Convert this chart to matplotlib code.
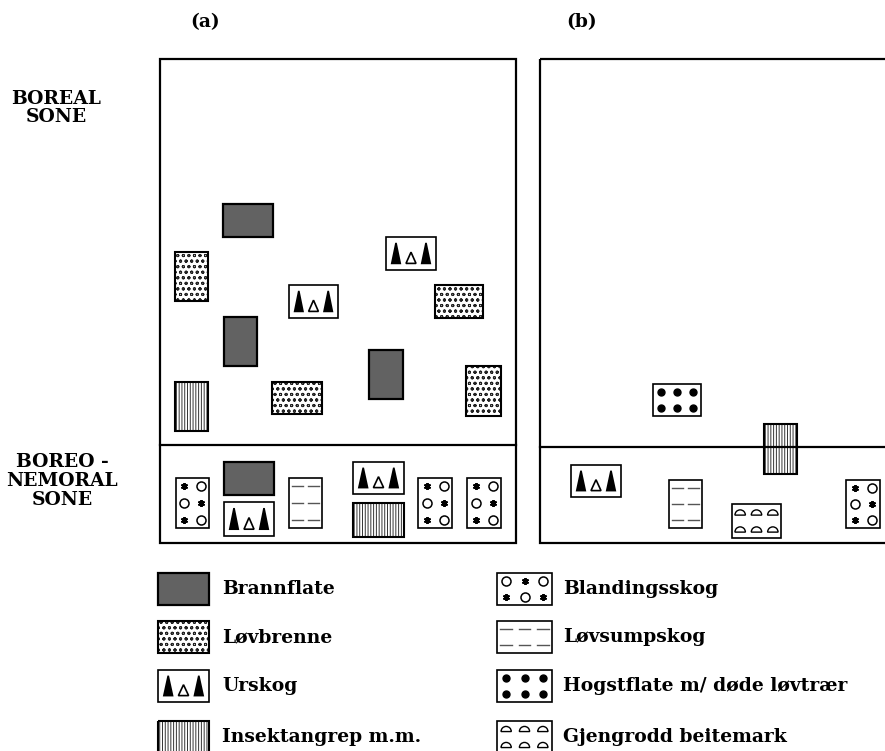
import matplotlib
matplotlib.use("Agg")
import matplotlib.pyplot as plt
from matplotlib.patches import Rectangle, Polygon, Wedge

# ---------------- data ----------------
# patch kinds placed in the schematic: (kind, left, top, right, bottom) in reference pixel units
kinds_a = ["brann", "lovbrenne", "urskog", "brann", "insekt", "lovbrenne",
           "urskog", "lovbrenne", "brann", "lovbrenne",
           "bland", "brann", "urskog", "lovsump", "urskog", "insekt", "bland", "bland"]
left_a = [223, 175, 289, 224, 175, 272, 386, 435, 369, 466, 176, 224, 224, 289, 353, 353, 418, 467]
top_a = [204, 252, 285, 317, 382, 382, 237, 285, 350, 366, 478, 462, 502, 478, 462, 503, 478, 478]
right_a = [273, 208, 338, 257, 208, 322, 436, 483, 403, 501, 209, 274, 274, 322, 404, 404, 452, 501]
bottom_a = [237, 301, 318, 366, 431, 414, 270, 318, 399, 416, 528, 495, 536, 528, 494, 537, 528, 528]

kinds_b = ["hogst", "insekt", "urskog", "lovsump", "gjeng", "bland"]
left_b = [653, 764, 571, 669, 732, 846]
top_b = [384, 424, 465, 480, 504, 480]
right_b = [701, 797, 621, 702, 781, 880]
bottom_b = [416, 474, 497, 528, 538, 528]

legend_kinds = ["brann", "lovbrenne", "urskog", "insekt",
                "bland", "lovsump", "hogst", "gjeng"]
legend_labels = ["Brannflate", "Løvbrenne", "Urskog", "Insektangrep m.m.",
                 "Blandingsskog", "Løvsumpskog", "Hogstflate m/ døde løvtrær",
                 "Gjengrodd beitemark"]

panel_titles = ["(a)", "(b)"]
zone_labels = ["BOREAL\nSONE", "BOREO -\nNEMORAL\nSONE"]

# ---------------- drawing ----------------
plt.rcParams['hatch.linewidth'] = 0.7
FONT = "DejaVu Serif"

fig = plt.figure(figsize=(8.85, 7.51), dpi=100)
ax = fig.add_axes([0, 0, 1, 1])
ax.set_xlim(0, 885)
ax.set_ylim(751, 0)
ax.axis("off")


def draw_patch(kind, x0, y0, x1, y1):
    w, h = x1 - x0, y1 - y0
    portrait = h > w
    if kind == "brann":
        ax.add_patch(Rectangle((x0, y0), w, h, facecolor="#626262", edgecolor="black", lw=1.6, zorder=3))
        return
    if kind == "lovbrenne":
        ax.add_patch(Rectangle((x0, y0), w, h, facecolor="white", edgecolor="#222222", hatch="ooo",
                               lw=0, zorder=3))
        ax.add_patch(Rectangle((x0, y0), w, h, facecolor="none", edgecolor="black", lw=1.5, zorder=3.2))
        return
    if kind == "insekt":
        ax.add_patch(Rectangle((x0, y0), w, h, facecolor="white", edgecolor="#333333", hatch="||||||",
                               lw=0, zorder=3))
        ax.add_patch(Rectangle((x0, y0), w, h, facecolor="none", edgecolor="black", lw=1.5, zorder=3.2))
        return
    ax.add_patch(Rectangle((x0, y0), w, h, facecolor="white", edgecolor="black", lw=1.2, zorder=3))
    if kind == "urskog":
        base = y1 - 0.2 * h
        for cx, th, bw, filled in [(0.2, 0.62, 0.17, True), (0.5, 0.34, 0.2, False), (0.8, 0.62, 0.17, True)]:
            px = x0 + cx * w
            tri = [(px - bw * w / 2, base), (px + bw * w / 2, base), (px, base - th * h)]
            ax.add_patch(Polygon(tri, closed=True, facecolor="black" if filled else "white",
                                 edgecolor="black", lw=1.2, zorder=3.3))
    elif kind in ("bland", "lovsump", "hogst", "gjeng"):
        if portrait:
            cols, rows = 2, 3
        else:
            cols, rows = 3, 2
        for r in range(rows):
            for c in range(cols):
                px = x0 + w * (c + 0.5) / cols
                py = y0 + h * (r + 0.5) / rows
                if kind == "bland":
                    star = (r + c) % 2 == (0 if portrait else 1)
                    if star:
                        ax.plot(px, py, marker=(6, 2, 0), ms=5, color="black", mew=1.4, zorder=4)
                    else:
                        ax.plot(px, py, marker="o", ms=6.5, mfc="white", mec="black", mew=1.1, zorder=4)
                elif kind == "lovsump":
                    ax.plot([px - 0.16 * w / cols * 2, px + 0.16 * w / cols * 2], [py, py],
                            color="#555555", lw=1.0, zorder=4)
                elif kind == "hogst":
                    ax.plot(px, py, marker="o", ms=5, color="black", zorder=4)
                elif kind == "gjeng":
                    rr = min(w / cols, h / rows) * 0.32
                    ax.add_patch(Wedge((px, py + rr * 0.5), rr, 180, 360, facecolor="white",
                                       edgecolor="black", lw=1.0, zorder=4))


# panel frames
ax.add_patch(Rectangle((160, 59), 356, 484, facecolor="none", edgecolor="black", lw=1.6, zorder=2))
ax.plot([160, 516], [445, 445], color="black", lw=1.6, zorder=2)
ax.add_patch(Rectangle((540, 59), 400, 484, facecolor="none", edgecolor="black", lw=1.6, zorder=2))
ax.plot([540, 885], [447, 447], color="black", lw=1.6, zorder=5)

for k, a, b, c, d in zip(kinds_a, left_a, top_a, right_a, bottom_a):
    draw_patch(k, a, b, c, d)
for k, a, b, c, d in zip(kinds_b, left_b, top_b, right_b, bottom_b):
    draw_patch(k, a, b, c, d)

# titles
ax.text(205, 22, panel_titles[0], fontsize=13.5, fontweight="bold", family=FONT, ha="center", va="center")
ax.text(582, 22, panel_titles[1], fontsize=13.5, fontweight="bold", family=FONT, ha="center", va="center")
ax.text(56, 108, zone_labels[0], fontsize=13.5, fontweight="bold", family=FONT, ha="center", va="center",
        linespacing=1.05)
ax.text(62, 481, zone_labels[1], fontsize=13.5, fontweight="bold", family=FONT, ha="center", va="center",
        linespacing=1.1)

# legend
leg_rows = [589, 637, 686, 737]
for i, (k, lab) in enumerate(zip(legend_kinds, legend_labels)):
    row = leg_rows[i % 4]
    if i < 4:
        sx0, sx1, tx = 158, 209, 222
    else:
        sx0, sx1, tx = 497, 552, 563
    draw_patch(k, sx0, row - 16, sx1, row + 16)
    ax.text(tx, row, lab, fontsize=13.5, fontweight="bold", family=FONT, ha="left", va="center")

fig.savefig("out.png", dpi=100)
